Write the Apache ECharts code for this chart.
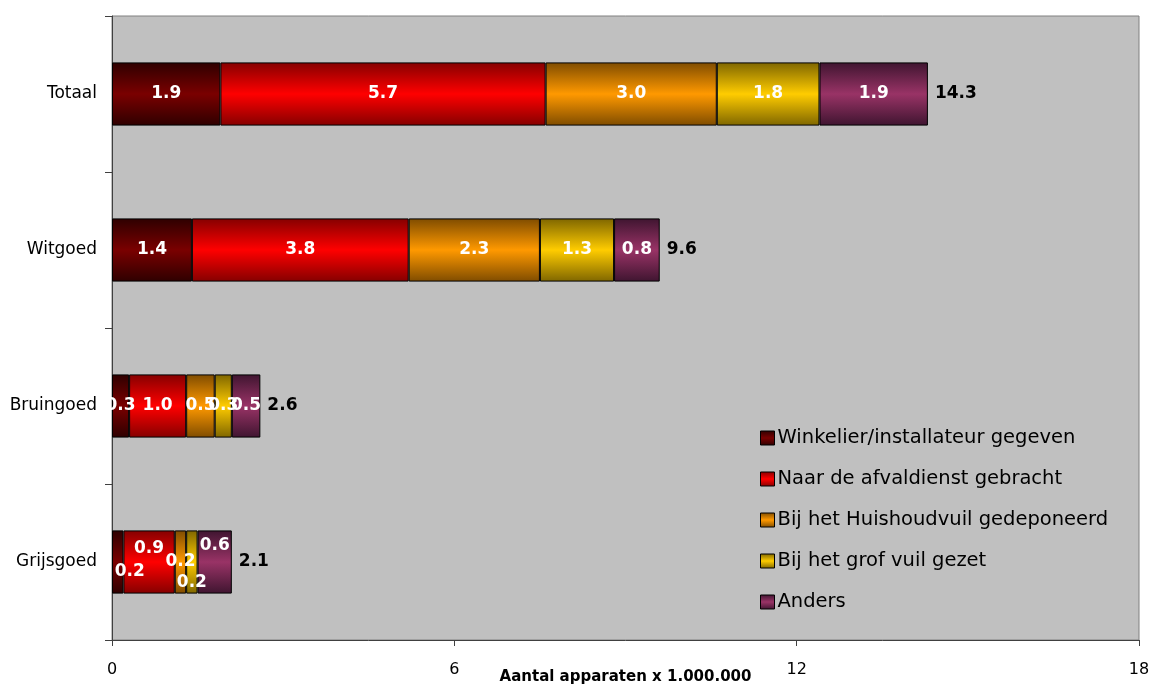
<!DOCTYPE html>
<html>
<head>
<meta charset="utf-8">
<script src="https://cdn.jsdelivr.net/npm/echarts@6/dist/echarts.min.js"></script>
<style>
html, body { margin: 0; padding: 0; background: #fff; }
#chart { width: 1150px; height: 689px; }
</style>
</head>
<body>
<div id="chart"></div>
<script>
// categorieen (van boven naar beneden)
var categories = ['Totaal', 'Witgoed', 'Bruingoed', 'Grijsgoed'];
var seriesNames = ['Winkelier/installateur gegeven', 'Naar de afvaldienst gebracht',
	'Bij het Huishoudvuil gedeponeerd', 'Bij het grof vuil gezet', 'Anders'];
// waarden x 1.000.000
var winkelier = [1.9, 1.4, 0.3, 0.2];
var afvaldienst = [5.7, 3.8, 1.0, 0.9];
var huishoudvuil = [3.0, 2.3, 0.5, 0.2];
var grofvuil = [1.8, 1.3, 0.3, 0.2];
var anders = [1.9, 0.8, 0.5, 0.6];
var totalen = [14.3, 9.6, 2.6, 2.1];
var xTicks = [0, 6, 12, 18];

var seriesValues = [winkelier, afvaldienst, huishoudvuil, grofvuil, anders];
// kleur midden / rand van de balk
var colors = [
	['#7a0000', '#2e0000'],
	['#ff0000', '#850000'],
	['#ff9900', '#7f4c00'],
	['#ffcc00', '#7f6600'],
	['#993366', '#3f1530']
];
// label verschuiving voor Grijsgoed (smalle stukken)
var grijsOffset = [[12, 10], [0, -13], [0, 0], [0, 21], [0, -16]];

function grad(c) {
	return new echarts.graphic.LinearGradient(0, 0, 0, 1, [
		{ offset: 0, color: c[1] },
		{ offset: 0.5, color: c[0] },
		{ offset: 1, color: c[1] }
	]);
}

var series = [];
for (var i = 0; i < seriesValues.length; i++) {
	var data = [];
	for (var j = 0; j < categories.length; j++) {
		var item = { value: seriesValues[i][j] };
		if (j == 3) {
			item.label = { offset: grijsOffset[i] };
		}
		data.push(item);
	}
	series.push({
		name: seriesNames[i],
		type: 'bar',
		stack: 'totaal',
		barCategoryGap: '59.5%',
		data: data,
		itemStyle: { color: grad(colors[i]), borderColor: '#000', borderWidth: 1 },
		label: {
			show: true,
			position: 'inside',
			color: '#fff',
			fontWeight: 'bold',
			fontSize: 17,
			fontFamily: 'DejaVu Sans',
			formatter: function (p) { return p.value.toFixed(1); }
		},
		emphasis: { disabled: true }
	});
}
// totalen rechts van de balk
series.push({
	name: 'totaal',
	type: 'bar',
	stack: 'totaal',
	data: totalen.map(function () { return 0; }),
	itemStyle: { color: 'transparent' },
	label: {
		show: true,
		position: 'right',
		distance: 7,
		color: '#000',
		fontWeight: 'bold',
		fontSize: 17,
		fontFamily: 'DejaVu Sans',
		formatter: function (p) { return totalen[p.dataIndex].toFixed(1); }
	},
	emphasis: { disabled: true }
});

var option = {
	backgroundColor: '#fff',
	animation: false,
	grid: {
		left: 112, right: 11, top: 16, bottom: 49,
		outerBoundsMode: 'none',
		containLabel: false,
		show: true, backgroundColor: '#c0c0c0', borderColor: '#808080', borderWidth: 1
	},
	legend: {
		data: seriesNames,
		orient: 'vertical',
		left: 755,
		top: 423,
		icon: 'rect',
		itemWidth: 14,
		itemHeight: 14,
		itemGap: 21,
		itemStyle: { borderColor: '#000', borderWidth: 1 },
		textStyle: { fontSize: 19.5, fontFamily: 'DejaVu Sans', color: '#000', padding: [0, 0, 0, -2] }
	},
	xAxis: {
		type: 'value',
		min: 0,
		max: 18,
		interval: 6,
		name: 'Aantal apparaten x 1.000.000',
		nameLocation: 'middle',
		nameGap: 30,
		nameMoveOverlap: false,
		nameTextStyle: { fontWeight: 'bold', fontSize: 15, fontFamily: 'DejaVu Sans', color: '#000' },
		axisLine: { show: true, lineStyle: { color: '#404040' } },
		axisTick: { show: true, length: 6, lineStyle: { color: '#404040' } },
		splitLine: { show: false },
		axisLabel: { fontSize: 16, fontFamily: 'DejaVu Sans', color: '#000', margin: 22 }
	},
	yAxis: {
		type: 'category',
		inverse: true,
		data: categories,
		axisLine: { show: true, lineStyle: { color: '#404040' } },
		axisTick: { show: true, length: 7, lineStyle: { color: '#404040' } },
		axisLabel: { fontSize: 17, fontFamily: 'DejaVu Sans', color: '#000', margin: 15 }
	},
	series: series
};

var myChart = echarts.init(document.getElementById('chart'));
myChart.setOption(option);
</script>
</body>
</html>
